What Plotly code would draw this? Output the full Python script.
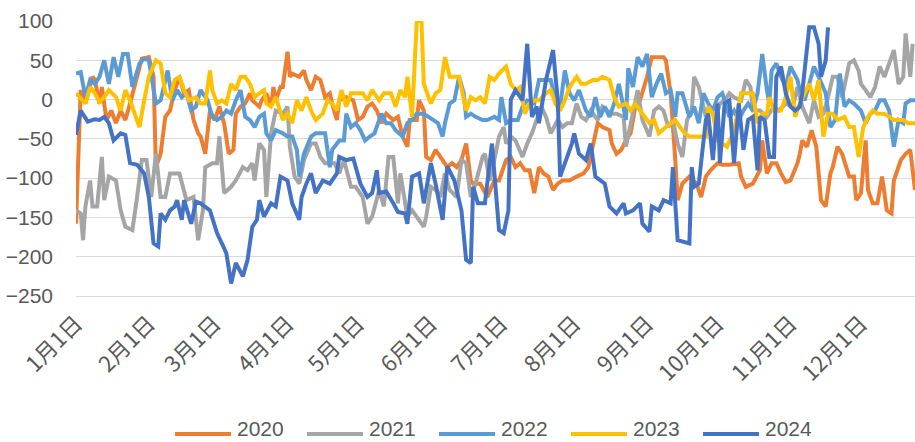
import pandas as pd
import plotly.graph_objects as go

# Day offsets from 1 January and the daily readings for each year
days_2020 = [0, 2, 4, 7, 8, 10, 11, 13, 15, 17, 19, 21, 23, 26, 28, 31, 33, 34, 36, 38, 40, 42, 44, 46, 48, 50, 52, 53, 55, 57, 59, 61, 63, 65, 67, 68, 70, 72, 74, 75, 78, 79, 81, 83, 84, 85, 87, 88, 90, 91, 92, 95, 97, 98, 100, 102, 104, 106, 108, 109, 111, 112, 115, 118, 120, 122, 124, 126, 128, 130, 132, 135, 137, 139, 141, 142, 145, 146, 148, 149, 151, 153, 156, 158, 160, 162, 164, 166, 168, 169, 172, 175, 178, 180, 183, 185, 187, 189, 191, 193, 195, 197, 199, 201, 203, 205, 207, 210, 213, 216, 218, 220, 222, 224, 227, 228, 230, 232, 234, 236, 238, 240, 243, 245, 247, 250, 251, 253, 255, 256, 258, 261, 264, 266, 268, 270, 273, 275, 278, 282, 283, 285, 288, 291, 292, 294, 296, 298, 300, 302, 304, 307, 308, 309, 311, 313, 315, 317, 319, 321, 322, 324, 326, 329, 331, 332, 334, 336, 337, 339, 341, 343, 345, 347, 348, 351, 353, 355, 357]
vals_2020 = [-158, 12, -5, 29, 25, -5, 16, -26, -14, -30, -14, -26, -5, 29, 52, 54, 29, -86, -69, -22, -14, 12, 29, 8, 12, -26, -43, -47, -69, -14, -26, -9, -30, -69, -64, -18, -9, -5, 8, -1, -9, -1, 8, -9, 16, -1, 16, 16, 61, 29, 33, 29, 37, 25, 12, 29, 25, 3, 8, -5, -26, -1, 3, -1, -26, -22, -9, -5, -14, -30, -18, -26, -22, -47, -60, -26, -26, -1, -14, -73, -77, -64, -77, -86, -81, -86, -77, -56, -103, -107, -107, -124, -103, -103, -77, -73, -86, -81, -90, -90, -119, -86, -94, -98, -115, -107, -103, -103, -98, -94, -86, -56, -30, -35, -39, -56, -69, -64, -52, -43, -9, -1, 29, 54, 54, 54, 50, 8, -77, -128, -107, -98, -107, -124, -98, -90, -81, -83, -83, -81, -98, -111, -107, -90, -52, -94, -81, -81, -94, -105, -103, -81, -69, -52, -60, -39, -60, -128, -136, -94, -86, -60, -69, -98, -98, -128, -119, -52, -115, -132, -132, -98, -141, -145, -103, -77, -69, -64, -115]

days_2021 = [0, 2, 3, 4, 6, 7, 9, 11, 12, 14, 17, 19, 21, 24, 26, 28, 30, 32, 34, 36, 38, 40, 44, 47, 50, 52, 54, 55, 58, 60, 61, 63, 66, 68, 71, 73, 75, 76, 78, 80, 81, 83, 85, 88, 90, 91, 93, 95, 97, 100, 102, 104, 106, 110, 112, 114, 117, 119, 122, 124, 126, 129, 131, 133, 135, 137, 138, 141, 143, 146, 148, 149, 151, 153, 155, 157, 159, 162, 164, 166, 168, 170, 173, 174, 176, 178, 180, 182, 183, 185, 187, 190, 192, 194, 196, 198, 200, 202, 205, 207, 209, 211, 213, 215, 217, 219, 222, 224, 226, 228, 230, 233, 234, 237, 239, 241, 244, 246, 248, 250, 252, 254, 256, 258, 260, 262, 263, 265, 268, 270, 272, 274, 276, 278, 280, 283, 285, 287, 288, 291, 294, 297, 299, 302, 305, 307, 309, 312, 314, 316, 318, 320, 322, 324, 326, 329, 331, 333, 334, 336, 338, 340, 342, 344, 346, 348, 350, 352, 353, 355, 356]
vals_2021 = [-141, -145, -179, -136, -103, -136, -136, -73, -128, -98, -103, -141, -162, -166, -124, -77, -77, -124, -69, -124, -124, -94, -94, -128, -124, -179, -141, -86, -81, -81, -47, -119, -111, -103, -86, -90, -81, -103, -56, -64, -124, -43, -14, -18, -9, -60, -98, -107, -77, -56, -56, -73, -81, -81, -94, -77, -111, -111, -124, -158, -149, -115, -136, -73, -73, -132, -94, -149, -141, -153, -162, -149, -111, -115, -124, -94, -115, -124, -77, -81, -124, -107, -73, -69, -103, -77, -47, -35, -56, -47, -52, -73, -56, -43, -26, -9, -22, -43, -26, -35, -30, -30, -5, -22, -26, -14, -26, -9, -14, -18, -18, -22, -60, -14, 12, -26, -47, -14, -9, -14, -35, -26, -56, -73, -26, -14, 29, 16, -22, -9, -26, -5, -1, 8, 3, -1, 25, 16, -14, -14, -22, -9, -14, -5, -9, 16, -9, -30, -1, -22, -18, 3, 29, 29, 3, 46, 50, 37, 20, 12, 3, 16, 42, 29, 46, 63, 20, 29, 84, 29, 71]

days_2022 = [0, 2, 4, 6, 8, 10, 12, 14, 16, 18, 20, 22, 24, 27, 29, 31, 34, 36, 39, 41, 43, 45, 47, 49, 51, 53, 56, 58, 60, 62, 64, 66, 68, 70, 72, 74, 76, 78, 80, 81, 83, 85, 88, 90, 92, 94, 95, 97, 100, 102, 106, 108, 109, 112, 114, 115, 117, 119, 121, 123, 125, 127, 129, 130, 132, 134, 136, 139, 141, 143, 145, 148, 150, 152, 154, 156, 157, 159, 161, 163, 165, 166, 168, 170, 173, 175, 178, 180, 181, 183, 185, 188, 190, 192, 195, 197, 199, 202, 204, 206, 208, 210, 212, 214, 217, 219, 221, 223, 225, 227, 229, 231, 234, 235, 237, 239, 241, 243, 245, 247, 249, 251, 253, 255, 256, 258, 261, 263, 265, 267, 269, 271, 273, 275, 278, 280, 282, 284, 286, 288, 290, 292, 294, 295, 296, 298, 300, 302, 304, 307, 308, 310, 312, 314, 316, 319, 321, 323, 325, 327, 329, 331, 334, 336, 338, 340, 342, 344, 346, 348, 350, 352, 353, 355, 357]
vals_2022 = [33, 35, 3, 25, 20, 29, 50, 20, 54, 29, 58, 58, 16, 46, 52, 50, -5, -1, 37, -1, 12, 3, 8, -14, -9, 12, -1, -22, -26, -22, -14, -18, -1, 12, -22, -26, -35, -22, -18, -43, -52, -39, -43, -47, -47, -64, -98, -69, -47, -43, -43, -86, -64, -52, -52, -18, -35, -30, -39, -52, -47, -43, -26, -18, -30, -30, -39, -47, -30, -26, -18, -18, -22, -26, -30, -47, -30, -5, -1, 29, 8, -22, -18, -22, -26, -26, -22, -26, 3, -30, -26, -26, -9, -1, -5, 25, 25, 25, -1, -9, 37, 8, -1, 12, -14, -22, 3, -22, -9, -22, -5, 20, -26, 40, 16, 54, 42, 58, 3, 20, 33, 8, 12, -22, 8, 8, -22, -9, -30, 8, -5, -14, 3, 8, -22, -14, -26, -14, -5, -14, 8, 58, 12, -5, 37, 46, 29, 16, 42, 25, 12, -1, 20, 42, 29, 8, -35, -26, 33, -9, -1, -5, -14, -30, -18, -14, -1, -1, -14, -60, -26, -30, -5, -1, -1]

days_2023 = [0, 4, 6, 8, 10, 12, 14, 17, 19, 21, 23, 25, 27, 29, 31, 34, 36, 38, 40, 42, 44, 46, 48, 51, 53, 55, 57, 58, 60, 62, 64, 66, 68, 70, 72, 74, 76, 78, 80, 81, 83, 85, 88, 90, 92, 94, 96, 98, 100, 102, 105, 107, 109, 111, 113, 115, 117, 119, 122, 124, 126, 129, 131, 134, 136, 138, 140, 141, 143, 145, 147, 148, 151, 153, 155, 157, 159, 161, 163, 166, 168, 170, 172, 174, 176, 178, 180, 183, 185, 187, 189, 191, 193, 195, 197, 200, 202, 204, 206, 208, 210, 213, 215, 217, 220, 222, 224, 227, 229, 231, 234, 236, 238, 240, 242, 244, 246, 248, 251, 253, 255, 257, 259, 261, 265, 268, 269, 271, 273, 275, 277, 279, 281, 283, 288, 290, 292, 294, 295, 297, 300, 302, 304, 306, 308, 310, 312, 314, 316, 318, 320, 322, 324, 327, 329, 331, 333, 335, 337, 339, 341, 344, 346, 348, 350, 352, 354, 357]
vals_2023 = [8, -5, 16, 8, -3, 3, 12, 3, -14, 12, -1, -18, -35, -1, 29, 50, 46, 8, 3, 25, 29, 12, -1, 3, -5, -5, 37, 12, -5, -1, -5, 20, 12, 29, 29, 20, 3, 8, 12, -5, -9, 3, -26, -18, -30, -1, -14, 3, -14, -26, -18, -1, -5, -14, 12, -9, 8, 8, 8, -1, 12, -1, 8, 8, -9, 12, 3, 29, -22, 100, 100, 20, -5, 8, 12, 54, 29, 29, 29, -14, 3, -1, 3, -5, 29, 25, 33, 42, 20, 12, 16, -18, -5, -1, -1, 8, 12, -5, -14, -1, 16, 29, 20, 20, 25, 25, 29, 25, 3, -9, -5, -14, -5, -14, -22, -30, -26, -43, -35, -30, -26, -35, -43, -47, -47, -47, -9, -18, -52, -56, -60, -47, -26, 8, 8, -30, -18, -18, 3, -14, -14, 3, 29, -22, -5, 8, 20, -1, 25, -47, -18, -18, -26, -22, -35, -35, -73, -35, -22, -14, -18, -18, -22, -26, -26, -26, -30, -30]

days_2024 = [0, 2, 5, 8, 10, 12, 14, 16, 19, 21, 23, 26, 29, 31, 33, 35, 36, 38, 40, 42, 43, 45, 46, 49, 51, 53, 57, 60, 63, 64, 66, 68, 71, 73, 75, 77, 78, 80, 83, 85, 87, 90, 92, 95, 96, 98, 100, 102, 105, 108, 111, 112, 115, 118, 121, 124, 126, 128, 129, 132, 135, 137, 140, 141, 143, 146, 148, 151, 153, 156, 158, 161, 164, 166, 168, 169, 171, 174, 177, 180, 182, 184, 185, 187, 190, 192, 194, 196, 197, 200, 203, 205, 206, 209, 211, 212, 214, 217, 219, 221, 225, 227, 230, 233, 234, 237, 240, 241, 244, 245, 248, 250, 253, 254, 255, 256, 261, 262, 263, 265, 268, 269, 271, 273, 274, 276, 278, 280, 282, 284, 286, 288, 290, 291, 293, 295, 297, 298, 300, 302, 304, 306, 308, 309, 312, 314, 316, 317, 319, 320]
vals_2024 = [-45, -14, -28, -25, -26, -22, -30, -52, -43, -45, -81, -83, -94, -124, -183, -187, -145, -153, -141, -136, -128, -153, -128, -158, -130, -132, -141, -170, -189, -196, -234, -208, -225, -204, -162, -153, -128, -149, -132, -136, -98, -103, -132, -153, -124, -107, -94, -119, -103, -107, -94, -73, -77, -75, -107, -124, -119, -90, -119, -117, -132, -143, -145, -158, -98, -94, -132, -81, -107, -153, -85, -103, -141, -204, -208, -111, -132, -132, -56, -166, -170, -141, 0, 12, -1, 71, -22, -9, -30, 25, 63, -1, -98, -73, -56, -43, -69, -77, -56, -98, -107, -136, -145, -132, -145, -141, -132, -158, -168, -136, -141, -128, -132, -86, -136, -179, -183, -86, -111, -107, -26, -18, -77, -5, -81, -5, -1, -81, -5, -64, -26, -22, -90, -22, -26, -73, -73, 29, 42, 8, -9, -14, -9, 8, 92, 92, 71, 29, 50, 92]

series = [
    ("2020", days_2020, vals_2020, "#ED7D31"),
    ("2021", days_2021, vals_2021, "#A5A5A5"),
    ("2022", days_2022, vals_2022, "#5B9BD5"),
    ("2023", days_2023, vals_2023, "#FFC000"),
    ("2024", days_2024, vals_2024, "#4472C4"),
]

# Every year is placed on a common calendar so the seasons line up
base = pd.Timestamp("2021-01-01")

def to_dates(offsets):
    return [base + pd.Timedelta(days=d) for d in offsets]

W, H = 915, 442
M_L, M_R, M_T, M_B = 76, 0, 21, 146
plot_w = W - M_L - M_R
plot_h = H - M_T - M_B
text_color = "#595959"
line_w = 4

fig = go.Figure()
for name, d, v, color in series:
    fig.add_trace(go.Scatter(
        x=to_dates(d), y=v, name=name, mode="lines",
        line=dict(color=color, width=line_w),
        showlegend=False,
    ))

# Legend row under the axis: a long line swatch followed by the year
swatch_len, gap, step = 56, 5, 132
row_left, row_y = 175, 434          # pixel position of the first swatch
text_bottom = 441                   # pixel row of the bottom of the legend text box

def px(p):
    return (p - M_L) / plot_w

def py(p):
    return (H - M_B - p) / plot_h

shapes, annotations = [], []
for i, (name, _, _, color) in enumerate(series):
    x0 = row_left + i * step
    shapes.append(dict(
        type="line", xref="paper", yref="paper",
        x0=px(x0), x1=px(x0 + swatch_len), y0=py(row_y), y1=py(row_y),
        line=dict(color=color, width=line_w),
    ))
    annotations.append(dict(
        xref="paper", yref="paper", x=px(x0 + swatch_len + gap), y=py(text_bottom),
        xanchor="left", yanchor="bottom", text=name, showarrow=False,
        borderpad=0, font=dict(size=21, color=text_color),
    ))

fig.update_layout(
    width=W, height=H,
    margin=dict(l=M_L, r=M_R, t=M_T, b=M_B, pad=0),
    paper_bgcolor="white", plot_bgcolor="white",
    font=dict(family="Liberation Sans, Noto Sans CJK SC, sans-serif", color=text_color),
    showlegend=False,
    shapes=shapes, annotations=annotations,
)
fig.update_xaxes(
    type="date",
    range=[base, base + pd.Timedelta(days=357)],
    tick0=base, dtick="M1", tickformat="%-m月%-d日",
    tickangle=-45, showgrid=False, zeroline=False,
    showline=True, linecolor="#D9D9D9", linewidth=1,
    ticks="", ticklabelstandoff=5,
    tickfont=dict(size=22, color=text_color,
                  family="Noto Sans CJK SC, Liberation Sans, sans-serif"),
)
fig.update_yaxes(
    range=[-250, 100], dtick=50, tick0=0,
    showgrid=True, gridcolor="#D9D9D9", gridwidth=1,
    zeroline=False, showline=False, ticks="",
    tickfont=dict(size=21, color=text_color),
    ticklabelstandoff=22,
)

fig.write_html("out.html")
